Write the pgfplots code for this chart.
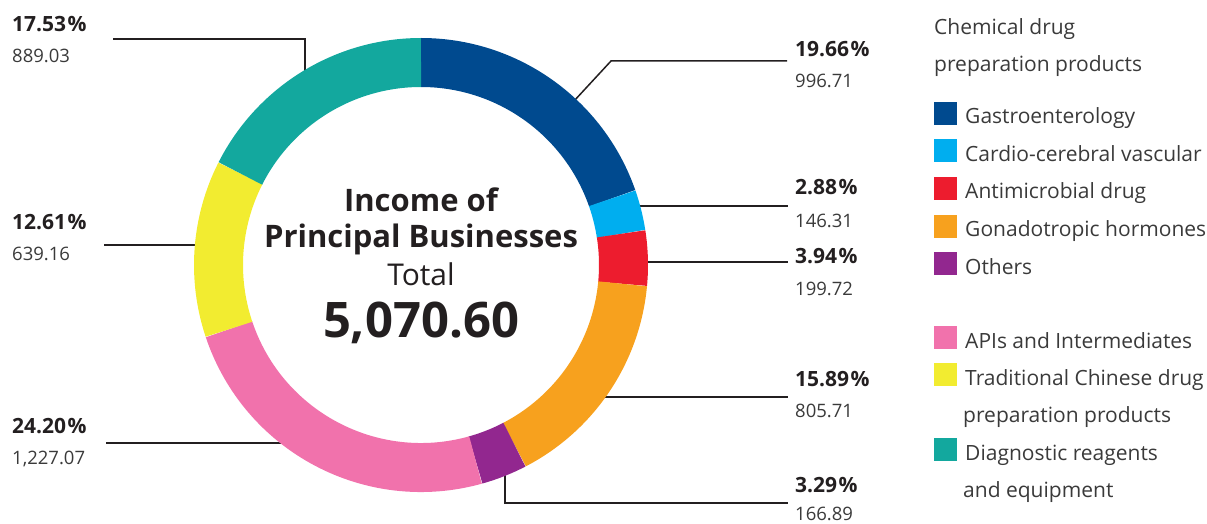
\documentclass[border=0pt]{standalone}
\usepackage{pgfplots}
\usepackage{pgfplotstable}
\pgfplotsset{compat=1.18}
\usepackage{fontspec}
\setmainfont{Open Sans}
\definecolor{c0}{HTML}{004A8F}
\definecolor{c1}{HTML}{00AEEF}
\definecolor{c2}{HTML}{ED1C2E}
\definecolor{c3}{HTML}{F7A11E}
\definecolor{c4}{HTML}{92278F}
\definecolor{c5}{HTML}{F172AC}
\definecolor{c6}{HTML}{F2EC30}
\definecolor{c7}{HTML}{13A89E}
\definecolor{txt}{HTML}{231F20}
\definecolor{gtxt}{HTML}{3A3A3A}
\pgfplotstableread{
name value pct
Gastroenterology 996.71 19.66
Cardio 146.31 2.88
Antimicrobial 199.72 3.94
Gonadotropic 805.71 15.89
Others 166.89 3.29
APIs 1227.07 24.20
TCM 639.16 12.61
Diagnostic 889.03 17.53
}\data
% cumulative angles (clockwise from 12 o'clock)
\xdef\total{0}
\foreach \i in {0,...,7}{%
  \pgfplotstablegetelem{\i}{value}\of\data
  \pgfmathsetmacro\tmp{\total+\pgfplotsretval}%
  \xdef\total{\tmp}%
}
\xdef\cum{0}
\foreach \i in {0,...,7}{%
  \pgfplotstablegetelem{\i}{value}\of\data
  \pgfmathsetmacro\s{90-360*(\cum/\total)}%
  \pgfmathsetmacro\nc{\cum+\pgfplotsretval}%
  \pgfmathsetmacro\e{90-360*(\nc/\total)}%
  \expandafter\xdef\csname aS\i\endcsname{\s}%
  \expandafter\xdef\csname aE\i\endcsname{\e}%
  \xdef\cum{\nc}%
}
\newcommand\lab{\fontsize{18.5}{22}\selectfont}
\newcommand\pct{\fontsize{21}{24}\selectfont\bfseries}
\newcommand\leg{\fontsize{21}{25}\selectfont}
\newcommand\pc{\kern1.5pt\%}
\begin{document}
\begin{tikzpicture}
\begin{axis}[
  x=1pt, y=1pt,
  xmin=0, xmax=1207, ymin=0, ymax=523,
  hide axis, clip=false,
]
% leader lines
\draw[txt, line width=1.5pt] (axis cs:113,484) -- (axis cs:305,484) -- (axis cs:305,450);
\draw[txt, line width=1.5pt] (axis cs:104,278) -- (axis cs:200,278);
\draw[txt, line width=1.5pt] (axis cs:106,80) -- (axis cs:285,80);
\draw[txt, line width=1.5pt] (axis cs:574,422) -- (axis cs:611,462) -- (axis cs:787,462);
\draw[txt, line width=1.5pt] (axis cs:635,317) -- (axis cs:788,317);
\draw[txt, line width=1.5pt] (axis cs:640,261) -- (axis cs:788,261);
\draw[txt, line width=1.5pt] (axis cs:600,126) -- (axis cs:788,126);
\draw[txt, line width=1.5pt] (axis cs:505,52) -- (axis cs:505,20) -- (axis cs:788,20);
% donut ring
\pgfplotsinvokeforeach{0,...,7}{
  \draw[c#1, line width=49pt] (axis cs:421,258) ++(\csname aS#1\endcsname:202.5pt)
    arc[start angle=\csname aS#1\endcsname, end angle=\csname aE#1\endcsname, radius=202.5pt];
}
% centre text
\node[anchor=base, txt, font=\fontsize{31}{36}\selectfont\bfseries] at (axis cs:421,312) {Income of};
\node[anchor=base, txt, font=\fontsize{31}{36}\selectfont\bfseries] at (axis cs:421,276) {Principal Businesses};
\node[anchor=base, txt, font=\fontsize{30}{36}\selectfont] at (axis cs:421,238) {Total};
\node[anchor=base, txt, font=\fontsize{49}{56}\selectfont\bfseries] at (axis cs:421,186) {5,070.60};
% value labels right
\node[anchor=base west, inner sep=0pt, txt, font=\pct] at (axis cs:795,466) {19.66\pc};
\node[anchor=base west, inner sep=0pt, gtxt, font=\lab] at (axis cs:795,435) {996.71};
\node[anchor=base west, inner sep=0pt, txt, font=\pct] at (axis cs:795,328) {2.88\pc};
\node[anchor=base west, inner sep=0pt, gtxt, font=\lab] at (axis cs:795,296) {146.31};
\node[anchor=base west, inner sep=0pt, txt, font=\pct] at (axis cs:795,260) {3.94\pc};
\node[anchor=base west, inner sep=0pt, gtxt, font=\lab] at (axis cs:795,228) {199.72};
\node[anchor=base west, inner sep=0pt, txt, font=\pct] at (axis cs:795,137) {15.89\pc};
\node[anchor=base west, inner sep=0pt, gtxt, font=\lab] at (axis cs:795,106) {805.71};
\node[anchor=base west, inner sep=0pt, txt, font=\pct] at (axis cs:795,31) {3.29\pc};
\node[anchor=base west, inner sep=0pt, gtxt, font=\lab] at (axis cs:795,3) {166.89};
% value labels left
\node[anchor=base west, inner sep=0pt, txt, font=\pct] at (axis cs:12,491) {17.53\pc};
\node[anchor=base west, inner sep=0pt, gtxt, font=\lab] at (axis cs:12,460) {889.03};
\node[anchor=base west, inner sep=0pt, txt, font=\pct] at (axis cs:12,294) {12.61\pc};
\node[anchor=base west, inner sep=0pt, gtxt, font=\lab] at (axis cs:12,263) {639.16};
\node[anchor=base west, inner sep=0pt, txt, font=\pct] at (axis cs:12,90) {24.20\pc};
\node[anchor=base west, inner sep=0pt, gtxt, font=\lab] at (axis cs:12,59) {1,227.07};
% legend
\node[anchor=base west, inner sep=0pt, gtxt, font=\leg] at (axis cs:934,488) {Chemical drug};
\node[anchor=base west, inner sep=0pt, gtxt, font=\leg] at (axis cs:934,451) {preparation products};
\fill[c0] (axis cs:934,398) rectangle (axis cs:957,421);
\node[anchor=base west, inner sep=0pt, gtxt, font=\leg] at (axis cs:965,399) {Gastroenterology};
\fill[c1] (axis cs:934,360.5) rectangle (axis cs:957,383.5);
\node[anchor=base west, inner sep=0pt, gtxt, font=\leg] at (axis cs:965,361.5) {Cardio-cerebral vascular};
\fill[c2] (axis cs:934,323) rectangle (axis cs:957,346);
\node[anchor=base west, inner sep=0pt, gtxt, font=\leg] at (axis cs:965,324) {Antimicrobial drug};
\fill[c3] (axis cs:934,285.5) rectangle (axis cs:957,308.5);
\node[anchor=base west, inner sep=0pt, gtxt, font=\leg] at (axis cs:965,286.5) {Gonadotropic hormones};
\fill[c4] (axis cs:934,248) rectangle (axis cs:957,271);
\node[anchor=base west, inner sep=0pt, gtxt, font=\leg] at (axis cs:965,249) {Others};
\fill[c5] (axis cs:934,174) rectangle (axis cs:957,197);
\node[anchor=base west, inner sep=0pt, gtxt, font=\leg] at (axis cs:965,175) {APIs and Intermediates};
\fill[c6] (axis cs:934,137) rectangle (axis cs:957,160);
\node[anchor=base west, inner sep=0pt, gtxt, font=\leg] at (axis cs:965,138) {Traditional Chinese drug};
\node[anchor=base west, inner sep=0pt, gtxt, font=\leg] at (axis cs:963,101) {preparation products};
\fill[c7] (axis cs:934,62) rectangle (axis cs:957,85);
\node[anchor=base west, inner sep=0pt, gtxt, font=\leg] at (axis cs:965,63) {Diagnostic reagents};
\node[anchor=base west, inner sep=0pt, gtxt, font=\leg] at (axis cs:963,26) {and equipment};
\end{axis}
\pgfresetboundingbox
\path[use as bounding box] (current axis.south west) rectangle (current axis.north east);
\end{tikzpicture}
\end{document}
